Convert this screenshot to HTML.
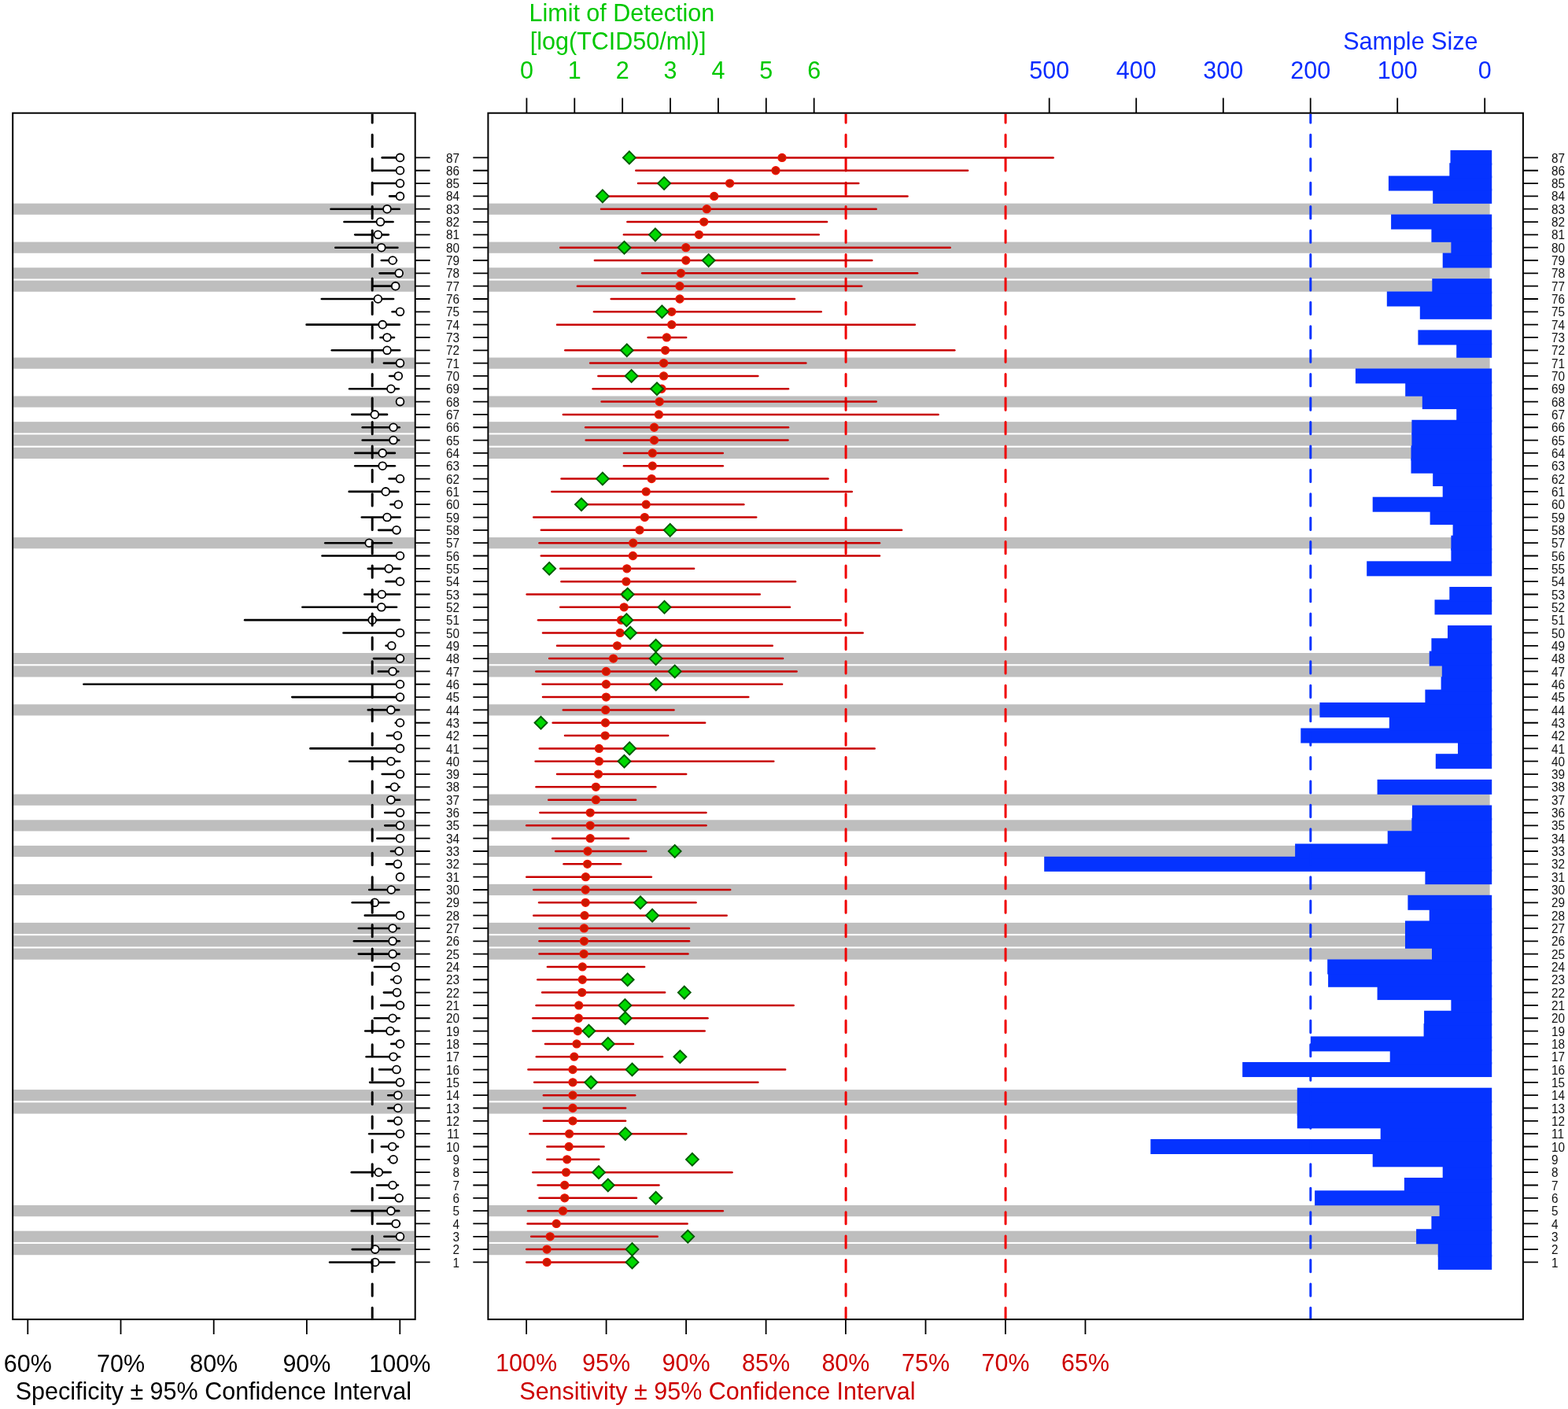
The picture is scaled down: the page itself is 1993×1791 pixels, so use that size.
<!DOCTYPE html>
<html><head><meta charset="utf-8"><title>Forest plot</title>
<style>html,body{margin:0;padding:0;background:#fff;overflow:hidden}svg{display:block;filter:blur(0.45px)}text{font-family:"Liberation Sans",Arial,Helvetica,sans-serif}</style></head><body>
<svg width="1993" height="1791" viewBox="0 0 1993 1791">
<rect x="0" y="0" width="1993" height="1791" fill="#fff"/>
<defs><clipPath id="cl"><rect x="17.2" y="144.7" width="509.5" height="1531.4"/></clipPath><clipPath id="cm"><rect x="621.4" y="144.7" width="1313.5" height="1531.4"/></clipPath></defs>
<g fill="#BEBEBE">
<rect x="17.2" y="258.6" width="509.5" height="14.2"/>
<rect x="621.4" y="258.6" width="1272.2" height="14.2"/>
<rect x="17.2" y="307.58" width="509.5" height="14.2"/>
<rect x="621.4" y="307.58" width="1272.2" height="14.2"/>
<rect x="17.2" y="340.23" width="509.5" height="14.2"/>
<rect x="621.4" y="340.23" width="1272.2" height="14.2"/>
<rect x="17.2" y="356.56" width="509.5" height="14.2"/>
<rect x="621.4" y="356.56" width="1272.2" height="14.2"/>
<rect x="17.2" y="454.52" width="509.5" height="14.2"/>
<rect x="621.4" y="454.52" width="1272.2" height="14.2"/>
<rect x="17.2" y="503.49" width="509.5" height="14.2"/>
<rect x="621.4" y="503.49" width="1272.2" height="14.2"/>
<rect x="17.2" y="536.15" width="509.5" height="14.2"/>
<rect x="621.4" y="536.15" width="1272.2" height="14.2"/>
<rect x="17.2" y="552.47" width="509.5" height="14.2"/>
<rect x="621.4" y="552.47" width="1272.2" height="14.2"/>
<rect x="17.2" y="568.8" width="509.5" height="14.2"/>
<rect x="621.4" y="568.8" width="1272.2" height="14.2"/>
<rect x="17.2" y="683.08" width="509.5" height="14.2"/>
<rect x="621.4" y="683.08" width="1272.2" height="14.2"/>
<rect x="17.2" y="830.01" width="509.5" height="14.2"/>
<rect x="621.4" y="830.01" width="1272.2" height="14.2"/>
<rect x="17.2" y="846.34" width="509.5" height="14.2"/>
<rect x="621.4" y="846.34" width="1272.2" height="14.2"/>
<rect x="17.2" y="895.32" width="509.5" height="14.2"/>
<rect x="621.4" y="895.32" width="1272.2" height="14.2"/>
<rect x="17.2" y="1009.6" width="509.5" height="14.2"/>
<rect x="621.4" y="1009.6" width="1272.2" height="14.2"/>
<rect x="17.2" y="1042.25" width="509.5" height="14.2"/>
<rect x="621.4" y="1042.25" width="1272.2" height="14.2"/>
<rect x="17.2" y="1074.9" width="509.5" height="14.2"/>
<rect x="621.4" y="1074.9" width="1272.2" height="14.2"/>
<rect x="17.2" y="1123.88" width="509.5" height="14.2"/>
<rect x="621.4" y="1123.88" width="1272.2" height="14.2"/>
<rect x="17.2" y="1172.86" width="509.5" height="14.2"/>
<rect x="621.4" y="1172.86" width="1272.2" height="14.2"/>
<rect x="17.2" y="1189.19" width="509.5" height="14.2"/>
<rect x="621.4" y="1189.19" width="1272.2" height="14.2"/>
<rect x="17.2" y="1205.51" width="509.5" height="14.2"/>
<rect x="621.4" y="1205.51" width="1272.2" height="14.2"/>
<rect x="17.2" y="1385.1" width="509.5" height="14.2"/>
<rect x="621.4" y="1385.1" width="1272.2" height="14.2"/>
<rect x="17.2" y="1401.42" width="509.5" height="14.2"/>
<rect x="621.4" y="1401.42" width="1272.2" height="14.2"/>
<rect x="17.2" y="1532.03" width="509.5" height="14.2"/>
<rect x="621.4" y="1532.03" width="1272.2" height="14.2"/>
<rect x="17.2" y="1564.68" width="509.5" height="14.2"/>
<rect x="621.4" y="1564.68" width="1272.2" height="14.2"/>
<rect x="17.2" y="1581.01" width="509.5" height="14.2"/>
<rect x="621.4" y="1581.01" width="1272.2" height="14.2"/>
</g>
<g fill="#0533FF">
<rect x="1827.8" y="1594.94" width="68.4" height="19"/>
<rect x="1827.8" y="1578.61" width="68.4" height="19"/>
<rect x="1800.1" y="1562.28" width="96.1" height="19"/>
<rect x="1819.4" y="1545.96" width="76.8" height="19"/>
<rect x="1829.6" y="1529.63" width="66.6" height="19"/>
<rect x="1671.1" y="1513.31" width="225.1" height="19"/>
<rect x="1784.9" y="1496.98" width="111.3" height="19"/>
<rect x="1833.7" y="1480.65" width="62.5" height="19"/>
<rect x="1744.7" y="1464.33" width="151.5" height="19"/>
<rect x="1462.4" y="1448" width="433.8" height="19"/>
<rect x="1754.7" y="1431.68" width="141.5" height="19"/>
<rect x="1648.8" y="1415.35" width="247.4" height="19"/>
<rect x="1648.8" y="1399.02" width="247.4" height="19"/>
<rect x="1648.8" y="1382.7" width="247.4" height="19"/>
<rect x="1579.2" y="1350.05" width="317" height="19"/>
<rect x="1766.7" y="1333.72" width="129.5" height="19"/>
<rect x="1665.8" y="1317.39" width="230.4" height="19"/>
<rect x="1809.6" y="1301.07" width="86.6" height="19"/>
<rect x="1810.1" y="1284.74" width="86.1" height="19"/>
<rect x="1844.4" y="1268.42" width="51.8" height="19"/>
<rect x="1750.6" y="1252.09" width="145.6" height="19"/>
<rect x="1688.1" y="1235.76" width="208.1" height="19"/>
<rect x="1687.2" y="1219.44" width="209" height="19"/>
<rect x="1820" y="1203.11" width="76.2" height="19"/>
<rect x="1786" y="1186.79" width="110.2" height="19"/>
<rect x="1786" y="1170.46" width="110.2" height="19"/>
<rect x="1816.7" y="1154.13" width="79.5" height="19"/>
<rect x="1789.4" y="1137.81" width="106.8" height="19"/>
<rect x="1811.4" y="1105.16" width="84.8" height="19"/>
<rect x="1327.2" y="1088.83" width="569" height="19"/>
<rect x="1646.1" y="1072.5" width="250.1" height="19"/>
<rect x="1763.7" y="1056.18" width="132.5" height="19"/>
<rect x="1794.4" y="1039.85" width="101.8" height="19"/>
<rect x="1794.9" y="1023.53" width="101.3" height="19"/>
<rect x="1750.6" y="990.87" width="145.6" height="19"/>
<rect x="1824.8" y="958.22" width="71.4" height="19"/>
<rect x="1853" y="941.9" width="43.2" height="19"/>
<rect x="1653.3" y="925.57" width="242.9" height="19"/>
<rect x="1765.8" y="909.24" width="130.4" height="19"/>
<rect x="1677.4" y="892.92" width="218.8" height="19"/>
<rect x="1811.4" y="876.59" width="84.8" height="19"/>
<rect x="1831.6" y="860.27" width="64.6" height="19"/>
<rect x="1832.8" y="843.94" width="63.4" height="19"/>
<rect x="1816.7" y="827.61" width="79.5" height="19"/>
<rect x="1819.4" y="811.29" width="76.8" height="19"/>
<rect x="1840" y="794.96" width="56.2" height="19"/>
<rect x="1823.5" y="762.31" width="72.7" height="19"/>
<rect x="1842.3" y="745.98" width="53.9" height="19"/>
<rect x="1737.2" y="713.33" width="159" height="19"/>
<rect x="1844.4" y="697.01" width="51.8" height="19"/>
<rect x="1844.4" y="680.68" width="51.8" height="19"/>
<rect x="1846.6" y="664.35" width="49.6" height="19"/>
<rect x="1817.6" y="648.03" width="78.6" height="19"/>
<rect x="1744.7" y="631.7" width="151.5" height="19"/>
<rect x="1833.7" y="615.38" width="62.5" height="19"/>
<rect x="1821.2" y="599.05" width="75" height="19"/>
<rect x="1793.5" y="582.72" width="102.7" height="19"/>
<rect x="1793.5" y="566.4" width="102.7" height="19"/>
<rect x="1794.4" y="550.07" width="101.8" height="19"/>
<rect x="1794.4" y="533.75" width="101.8" height="19"/>
<rect x="1851.2" y="517.42" width="45" height="19"/>
<rect x="1807.8" y="501.09" width="88.4" height="19"/>
<rect x="1786.2" y="484.77" width="110" height="19"/>
<rect x="1722.9" y="468.44" width="173.3" height="19"/>
<rect x="1851.2" y="435.79" width="45" height="19"/>
<rect x="1802.4" y="419.46" width="93.8" height="19"/>
<rect x="1804.8" y="386.81" width="91.4" height="19"/>
<rect x="1762.8" y="370.49" width="133.4" height="19"/>
<rect x="1820.3" y="354.16" width="75.9" height="19"/>
<rect x="1833.7" y="321.51" width="62.5" height="19"/>
<rect x="1844.4" y="305.18" width="51.8" height="19"/>
<rect x="1819.4" y="288.86" width="76.8" height="19"/>
<rect x="1768.1" y="272.53" width="128.1" height="19"/>
<rect x="1821.2" y="239.88" width="75" height="19"/>
<rect x="1764.9" y="223.55" width="131.3" height="19"/>
<rect x="1842.3" y="207.23" width="53.9" height="19"/>
<rect x="1843.5" y="190.9" width="52.7" height="19"/>
</g>
<g clip-path="url(#cm)" stroke-width="3" fill="none" stroke-dasharray="15.2 15.23" stroke-linecap="round">
<line x1="1075.1" y1="140.87" x2="1075.1" y2="1677.1" stroke="#F00000"/>
<line x1="1278.1" y1="140.87" x2="1278.1" y2="1677.1" stroke="#F00000"/>
<line x1="1665.8" y1="140.87" x2="1665.8" y2="1677.1" stroke="#0533FF"/>
</g>
<g stroke="#000" stroke-width="2.6" stroke-linecap="round" fill="none">
<line x1="419.1" y1="1604.44" x2="501.4" y2="1604.44"/>
<line x1="447.7" y1="1588.11" x2="508.1" y2="1588.11"/>
<line x1="488.4" y1="1571.78" x2="508.5" y2="1571.78"/>
<line x1="479.4" y1="1555.46" x2="508.1" y2="1555.46"/>
<line x1="446.8" y1="1539.13" x2="507.2" y2="1539.13"/>
<line x1="482.1" y1="1522.81" x2="507.2" y2="1522.81"/>
<line x1="479" y1="1506.48" x2="505.9" y2="1506.48"/>
<line x1="446.8" y1="1490.15" x2="496.5" y2="1490.15"/>
<line x1="493.7" y1="1473.83" x2="500" y2="1473.83"/>
<line x1="484.8" y1="1457.5" x2="505.9" y2="1457.5"/>
<line x1="469.2" y1="1441.18" x2="508.5" y2="1441.18"/>
<line x1="493.3" y1="1424.85" x2="505.8" y2="1424.85"/>
<line x1="493.3" y1="1408.52" x2="505.8" y2="1408.52"/>
<line x1="493.3" y1="1392.2" x2="505.8" y2="1392.2"/>
<line x1="470.1" y1="1375.87" x2="508.5" y2="1375.87"/>
<line x1="482.1" y1="1359.55" x2="504" y2="1359.55"/>
<line x1="465.6" y1="1343.22" x2="508.1" y2="1343.22"/>
<line x1="497.3" y1="1326.89" x2="508.5" y2="1326.89"/>
<line x1="464.2" y1="1310.57" x2="507.2" y2="1310.57"/>
<line x1="475.9" y1="1294.24" x2="507.7" y2="1294.24"/>
<line x1="484.3" y1="1277.92" x2="508.5" y2="1277.92"/>
<line x1="487.9" y1="1261.59" x2="504.5" y2="1261.59"/>
<line x1="497.3" y1="1245.26" x2="505" y2="1245.26"/>
<line x1="475.9" y1="1228.94" x2="502.7" y2="1228.94"/>
<line x1="455.8" y1="1212.61" x2="507.7" y2="1212.61"/>
<line x1="449.9" y1="1196.29" x2="507.7" y2="1196.29"/>
<line x1="455.8" y1="1179.96" x2="507.7" y2="1179.96"/>
<line x1="463.8" y1="1163.63" x2="508.5" y2="1163.63"/>
<line x1="447.7" y1="1147.31" x2="494.3" y2="1147.31"/>
<line x1="469.2" y1="1130.98" x2="507.2" y2="1130.98"/>
<line x1="491" y1="1098.33" x2="505.4" y2="1098.33"/>
<line x1="496.9" y1="1082" x2="507.2" y2="1082"/>
<line x1="479.4" y1="1065.68" x2="508.5" y2="1065.68"/>
<line x1="489.3" y1="1049.35" x2="508.5" y2="1049.35"/>
<line x1="489.3" y1="1033.03" x2="508.5" y2="1033.03"/>
<line x1="493.3" y1="1016.7" x2="508.1" y2="1016.7"/>
<line x1="491" y1="1000.37" x2="507.7" y2="1000.37"/>
<line x1="485.7" y1="984.05" x2="508.5" y2="984.05"/>
<line x1="444.1" y1="967.72" x2="508.1" y2="967.72"/>
<line x1="394.4" y1="951.4" x2="508.5" y2="951.4"/>
<line x1="491.9" y1="935.07" x2="505.4" y2="935.07"/>
<line x1="502.7" y1="918.74" x2="508.5" y2="918.74"/>
<line x1="467.8" y1="902.42" x2="507.2" y2="902.42"/>
<line x1="371.3" y1="886.09" x2="508.5" y2="886.09"/>
<line x1="106.4" y1="869.77" x2="508.5" y2="869.77"/>
<line x1="480.8" y1="853.44" x2="506.3" y2="853.44"/>
<line x1="475" y1="837.11" x2="508.5" y2="837.11"/>
<line x1="490.6" y1="820.79" x2="497.8" y2="820.79"/>
<line x1="436.5" y1="804.46" x2="508.5" y2="804.46"/>
<line x1="311.1" y1="788.14" x2="507.7" y2="788.14"/>
<line x1="384.4" y1="771.81" x2="504.1" y2="771.81"/>
<line x1="463.3" y1="755.48" x2="508.1" y2="755.48"/>
<line x1="490.6" y1="739.16" x2="508.5" y2="739.16"/>
<line x1="467.8" y1="722.83" x2="508.6" y2="722.83"/>
<line x1="409.5" y1="706.51" x2="508.5" y2="706.51"/>
<line x1="413.3" y1="690.18" x2="497.8" y2="690.18"/>
<line x1="481.2" y1="673.85" x2="504" y2="673.85"/>
<line x1="459.8" y1="657.53" x2="508.6" y2="657.53"/>
<line x1="496.4" y1="641.2" x2="506.3" y2="641.2"/>
<line x1="443.7" y1="624.88" x2="506.3" y2="624.88"/>
<line x1="494.6" y1="608.55" x2="508.5" y2="608.55"/>
<line x1="451.3" y1="592.22" x2="501.9" y2="592.22"/>
<line x1="451.3" y1="575.9" x2="501.9" y2="575.9"/>
<line x1="460.7" y1="559.57" x2="507.2" y2="559.57"/>
<line x1="460.7" y1="543.25" x2="507.7" y2="543.25"/>
<line x1="447.3" y1="526.92" x2="492" y2="526.92"/>
<line x1="444.1" y1="494.27" x2="506.8" y2="494.27"/>
<line x1="495.1" y1="477.94" x2="506.3" y2="477.94"/>
<line x1="487.9" y1="461.62" x2="508.5" y2="461.62"/>
<line x1="421.8" y1="445.29" x2="508.1" y2="445.29"/>
<line x1="483.5" y1="428.96" x2="501" y2="428.96"/>
<line x1="389.6" y1="412.64" x2="507.7" y2="412.64"/>
<line x1="498.6" y1="396.31" x2="508.5" y2="396.31"/>
<line x1="408.8" y1="379.99" x2="500.1" y2="379.99"/>
<line x1="475" y1="363.66" x2="502.7" y2="363.66"/>
<line x1="482.6" y1="347.33" x2="507.2" y2="347.33"/>
<line x1="484.8" y1="331.01" x2="504.1" y2="331.01"/>
<line x1="426.3" y1="314.68" x2="505.4" y2="314.68"/>
<line x1="451.3" y1="298.36" x2="493.8" y2="298.36"/>
<line x1="437.4" y1="282.03" x2="499.6" y2="282.03"/>
<line x1="420.5" y1="265.7" x2="507.7" y2="265.7"/>
<line x1="495.1" y1="249.38" x2="508.5" y2="249.38"/>
<line x1="475" y1="233.05" x2="508.5" y2="233.05"/>
<line x1="474.8" y1="216.73" x2="508.5" y2="216.73"/>
<line x1="485.7" y1="200.4" x2="508.5" y2="200.4"/>
</g>
<g stroke="#000" stroke-width="1.8" fill="#fff">
<circle cx="476.8" cy="1604.44" r="4.9"/>
<circle cx="476.8" cy="1588.11" r="4.9"/>
<circle cx="508.5" cy="1571.78" r="4.9"/>
<circle cx="503.2" cy="1555.46" r="4.9"/>
<circle cx="496.9" cy="1539.13" r="4.9"/>
<circle cx="507.2" cy="1522.81" r="4.9"/>
<circle cx="499.1" cy="1506.48" r="4.9"/>
<circle cx="481.3" cy="1490.15" r="4.9"/>
<circle cx="500" cy="1473.83" r="4.9"/>
<circle cx="498.7" cy="1457.5" r="4.9"/>
<circle cx="508.5" cy="1441.18" r="4.9"/>
<circle cx="505.8" cy="1424.85" r="4.9"/>
<circle cx="505.8" cy="1408.52" r="4.9"/>
<circle cx="505.8" cy="1392.2" r="4.9"/>
<circle cx="508.5" cy="1375.87" r="4.9"/>
<circle cx="504" cy="1359.55" r="4.9"/>
<circle cx="500" cy="1343.22" r="4.9"/>
<circle cx="508.5" cy="1326.89" r="4.9"/>
<circle cx="496" cy="1310.57" r="4.9"/>
<circle cx="499.1" cy="1294.24" r="4.9"/>
<circle cx="508.5" cy="1277.92" r="4.9"/>
<circle cx="504.5" cy="1261.59" r="4.9"/>
<circle cx="505" cy="1245.26" r="4.9"/>
<circle cx="502.7" cy="1228.94" r="4.9"/>
<circle cx="499.1" cy="1212.61" r="4.9"/>
<circle cx="499.1" cy="1196.29" r="4.9"/>
<circle cx="499.1" cy="1179.96" r="4.9"/>
<circle cx="508.5" cy="1163.63" r="4.9"/>
<circle cx="476.3" cy="1147.31" r="4.9"/>
<circle cx="497.3" cy="1130.98" r="4.9"/>
<circle cx="508.5" cy="1114.66" r="4.9"/>
<circle cx="505.4" cy="1098.33" r="4.9"/>
<circle cx="507.2" cy="1082" r="4.9"/>
<circle cx="508.5" cy="1065.68" r="4.9"/>
<circle cx="508.5" cy="1049.35" r="4.9"/>
<circle cx="508.5" cy="1033.03" r="4.9"/>
<circle cx="496.9" cy="1016.7" r="4.9"/>
<circle cx="501.4" cy="1000.37" r="4.9"/>
<circle cx="508.5" cy="984.05" r="4.9"/>
<circle cx="496.9" cy="967.72" r="4.9"/>
<circle cx="508.5" cy="951.4" r="4.9"/>
<circle cx="505.4" cy="935.07" r="4.9"/>
<circle cx="508.5" cy="918.74" r="4.9"/>
<circle cx="496.9" cy="902.42" r="4.9"/>
<circle cx="508.5" cy="886.09" r="4.9"/>
<circle cx="508.5" cy="869.77" r="4.9"/>
<circle cx="499.1" cy="853.44" r="4.9"/>
<circle cx="508.5" cy="837.11" r="4.9"/>
<circle cx="497.8" cy="820.79" r="4.9"/>
<circle cx="508.5" cy="804.46" r="4.9"/>
<circle cx="473.2" cy="788.14" r="4.9"/>
<circle cx="484.8" cy="771.81" r="4.9"/>
<circle cx="485.3" cy="755.48" r="4.9"/>
<circle cx="508.5" cy="739.16" r="4.9"/>
<circle cx="494.2" cy="722.83" r="4.9"/>
<circle cx="508.5" cy="706.51" r="4.9"/>
<circle cx="469.2" cy="690.18" r="4.9"/>
<circle cx="504" cy="673.85" r="4.9"/>
<circle cx="492" cy="657.53" r="4.9"/>
<circle cx="506.3" cy="641.2" r="4.9"/>
<circle cx="490.2" cy="624.88" r="4.9"/>
<circle cx="508.5" cy="608.55" r="4.9"/>
<circle cx="486.2" cy="592.22" r="4.9"/>
<circle cx="486.2" cy="575.9" r="4.9"/>
<circle cx="500" cy="559.57" r="4.9"/>
<circle cx="500" cy="543.25" r="4.9"/>
<circle cx="476.3" cy="526.92" r="4.9"/>
<circle cx="508.5" cy="510.59" r="4.9"/>
<circle cx="496.9" cy="494.27" r="4.9"/>
<circle cx="506.3" cy="477.94" r="4.9"/>
<circle cx="508.5" cy="461.62" r="4.9"/>
<circle cx="492" cy="445.29" r="4.9"/>
<circle cx="492" cy="428.96" r="4.9"/>
<circle cx="486.2" cy="412.64" r="4.9"/>
<circle cx="508.5" cy="396.31" r="4.9"/>
<circle cx="480.4" cy="379.99" r="4.9"/>
<circle cx="502.7" cy="363.66" r="4.9"/>
<circle cx="507.2" cy="347.33" r="4.9"/>
<circle cx="499.1" cy="331.01" r="4.9"/>
<circle cx="484.8" cy="314.68" r="4.9"/>
<circle cx="480.4" cy="298.36" r="4.9"/>
<circle cx="483.5" cy="282.03" r="4.9"/>
<circle cx="492" cy="265.7" r="4.9"/>
<circle cx="508.5" cy="249.38" r="4.9"/>
<circle cx="508.5" cy="233.05" r="4.9"/>
<circle cx="508.5" cy="216.73" r="4.9"/>
<circle cx="508.5" cy="200.4" r="4.9"/>
</g>
<g clip-path="url(#cl)"><line x1="473.2" y1="140.87" x2="473.2" y2="1677.1" stroke="#000" stroke-width="3" stroke-dasharray="15.2 15.23" stroke-linecap="round"/></g>
<g stroke="#C80000" stroke-width="2.5" stroke-linecap="round" fill="none">
<line x1="669.2" y1="1604.44" x2="801.8" y2="1604.44"/>
<line x1="669.2" y1="1588.11" x2="801.8" y2="1588.11"/>
<line x1="675.2" y1="1571.78" x2="835.7" y2="1571.78"/>
<line x1="670.5" y1="1555.46" x2="873.6" y2="1555.46"/>
<line x1="671" y1="1539.13" x2="918.8" y2="1539.13"/>
<line x1="685.5" y1="1522.81" x2="809" y2="1522.81"/>
<line x1="683.6" y1="1506.48" x2="837.5" y2="1506.48"/>
<line x1="677.3" y1="1490.15" x2="930.5" y2="1490.15"/>
<line x1="695.4" y1="1473.83" x2="761.3" y2="1473.83"/>
<line x1="695.4" y1="1457.5" x2="767.6" y2="1457.5"/>
<line x1="673.4" y1="1441.18" x2="872.2" y2="1441.18"/>
<line x1="690.9" y1="1424.85" x2="795.1" y2="1424.85"/>
<line x1="690.9" y1="1408.52" x2="795.1" y2="1408.52"/>
<line x1="690.9" y1="1392.2" x2="807.2" y2="1392.2"/>
<line x1="679.1" y1="1375.87" x2="963.4" y2="1375.87"/>
<line x1="671.4" y1="1359.55" x2="998.1" y2="1359.55"/>
<line x1="681.8" y1="1343.22" x2="842" y2="1343.22"/>
<line x1="693" y1="1326.89" x2="805" y2="1326.89"/>
<line x1="677.3" y1="1310.57" x2="895.7" y2="1310.57"/>
<line x1="677.3" y1="1294.24" x2="899.5" y2="1294.24"/>
<line x1="681.5" y1="1277.92" x2="1008.7" y2="1277.92"/>
<line x1="689.1" y1="1261.59" x2="845.1" y2="1261.59"/>
<line x1="683.3" y1="1245.26" x2="795.8" y2="1245.26"/>
<line x1="695.9" y1="1228.94" x2="819.1" y2="1228.94"/>
<line x1="685.5" y1="1212.61" x2="874.5" y2="1212.61"/>
<line x1="685.5" y1="1196.29" x2="876" y2="1196.29"/>
<line x1="685.5" y1="1179.96" x2="876" y2="1179.96"/>
<line x1="678.2" y1="1163.63" x2="923.7" y2="1163.63"/>
<line x1="685.1" y1="1147.31" x2="884.5" y2="1147.31"/>
<line x1="678.2" y1="1130.98" x2="928.2" y2="1130.98"/>
<line x1="669.2" y1="1114.66" x2="827.9" y2="1114.66"/>
<line x1="716.5" y1="1098.33" x2="789.1" y2="1098.33"/>
<line x1="706.2" y1="1082" x2="821.2" y2="1082"/>
<line x1="702.1" y1="1065.68" x2="799" y2="1065.68"/>
<line x1="669.2" y1="1049.35" x2="897.5" y2="1049.35"/>
<line x1="686.4" y1="1033.03" x2="897.5" y2="1033.03"/>
<line x1="697.2" y1="1016.7" x2="808.1" y2="1016.7"/>
<line x1="681.5" y1="1000.37" x2="833.3" y2="1000.37"/>
<line x1="708" y1="984.05" x2="872.2" y2="984.05"/>
<line x1="680.6" y1="967.72" x2="983.3" y2="967.72"/>
<line x1="685.8" y1="951.4" x2="1111.7" y2="951.4"/>
<line x1="718" y1="935.07" x2="849.2" y2="935.07"/>
<line x1="702.6" y1="918.74" x2="896.2" y2="918.74"/>
<line x1="715.8" y1="902.42" x2="856.5" y2="902.42"/>
<line x1="690" y1="886.09" x2="951.3" y2="886.09"/>
<line x1="689.6" y1="869.77" x2="994.1" y2="869.77"/>
<line x1="681.3" y1="853.44" x2="1012.6" y2="853.44"/>
<line x1="698.1" y1="837.11" x2="995.1" y2="837.11"/>
<line x1="708" y1="820.79" x2="981.8" y2="820.79"/>
<line x1="690" y1="804.46" x2="1096.7" y2="804.46"/>
<line x1="684" y1="788.14" x2="1068.6" y2="788.14"/>
<line x1="712.2" y1="771.81" x2="1004" y2="771.81"/>
<line x1="669.6" y1="755.48" x2="965.8" y2="755.48"/>
<line x1="713.5" y1="739.16" x2="1011" y2="739.16"/>
<line x1="712.2" y1="722.83" x2="882.1" y2="722.83"/>
<line x1="687.8" y1="706.51" x2="1118" y2="706.51"/>
<line x1="685.5" y1="690.18" x2="1118" y2="690.18"/>
<line x1="687.8" y1="673.85" x2="1146.1" y2="673.85"/>
<line x1="678.2" y1="657.53" x2="961.2" y2="657.53"/>
<line x1="746.2" y1="641.2" x2="945.3" y2="641.2"/>
<line x1="701.4" y1="624.88" x2="1082.8" y2="624.88"/>
<line x1="713.5" y1="608.55" x2="1052.5" y2="608.55"/>
<line x1="792.9" y1="592.22" x2="918.8" y2="592.22"/>
<line x1="792.9" y1="575.9" x2="918.8" y2="575.9"/>
<line x1="744.7" y1="559.57" x2="1001.5" y2="559.57"/>
<line x1="744.2" y1="543.25" x2="1002" y2="543.25"/>
<line x1="715.8" y1="526.92" x2="1192.6" y2="526.92"/>
<line x1="764.6" y1="510.59" x2="1113.7" y2="510.59"/>
<line x1="753.6" y1="494.27" x2="1002" y2="494.27"/>
<line x1="760.4" y1="477.94" x2="963.4" y2="477.94"/>
<line x1="750.1" y1="461.62" x2="1024.4" y2="461.62"/>
<line x1="718.3" y1="445.29" x2="1213.3" y2="445.29"/>
<line x1="823.6" y1="428.96" x2="872.2" y2="428.96"/>
<line x1="708" y1="412.64" x2="1162.9" y2="412.64"/>
<line x1="755" y1="396.31" x2="1043.7" y2="396.31"/>
<line x1="776.7" y1="379.99" x2="1010" y2="379.99"/>
<line x1="733.9" y1="363.66" x2="1095.3" y2="363.66"/>
<line x1="816.1" y1="347.33" x2="1166.1" y2="347.33"/>
<line x1="755.9" y1="331.01" x2="1108.3" y2="331.01"/>
<line x1="712.2" y1="314.68" x2="1207.7" y2="314.68"/>
<line x1="792.9" y1="298.36" x2="1040.7" y2="298.36"/>
<line x1="797.4" y1="282.03" x2="1051.1" y2="282.03"/>
<line x1="764" y1="265.7" x2="1113.7" y2="265.7"/>
<line x1="771.2" y1="249.38" x2="1153.5" y2="249.38"/>
<line x1="811" y1="233.05" x2="1091.3" y2="233.05"/>
<line x1="808.3" y1="216.73" x2="1230.1" y2="216.73"/>
<line x1="806.2" y1="200.4" x2="1338.7" y2="200.4"/>
</g>
<g fill="#CC1800" stroke="#F21400" stroke-width="1.3">
<circle cx="695.1" cy="1604.44" r="5.0"/>
<circle cx="695.1" cy="1588.11" r="5.0"/>
<circle cx="699.2" cy="1571.78" r="5.0"/>
<circle cx="707.2" cy="1555.46" r="5.0"/>
<circle cx="715.5" cy="1539.13" r="5.0"/>
<circle cx="717.7" cy="1522.81" r="5.0"/>
<circle cx="717.7" cy="1506.48" r="5.0"/>
<circle cx="719.5" cy="1490.15" r="5.0"/>
<circle cx="720.7" cy="1473.83" r="5.0"/>
<circle cx="723.1" cy="1457.5" r="5.0"/>
<circle cx="723.6" cy="1441.18" r="5.0"/>
<circle cx="728" cy="1424.85" r="5.0"/>
<circle cx="728" cy="1408.52" r="5.0"/>
<circle cx="728" cy="1392.2" r="5.0"/>
<circle cx="728" cy="1375.87" r="5.0"/>
<circle cx="728" cy="1359.55" r="5.0"/>
<circle cx="729.8" cy="1343.22" r="5.0"/>
<circle cx="733" cy="1326.89" r="5.0"/>
<circle cx="734.3" cy="1310.57" r="5.0"/>
<circle cx="735.4" cy="1294.24" r="5.0"/>
<circle cx="735.7" cy="1277.92" r="5.0"/>
<circle cx="739.7" cy="1261.59" r="5.0"/>
<circle cx="740.3" cy="1245.26" r="5.0"/>
<circle cx="740.3" cy="1228.94" r="5.0"/>
<circle cx="742.1" cy="1212.61" r="5.0"/>
<circle cx="742.4" cy="1196.29" r="5.0"/>
<circle cx="742.4" cy="1179.96" r="5.0"/>
<circle cx="743" cy="1163.63" r="5.0"/>
<circle cx="744.2" cy="1147.31" r="5.0"/>
<circle cx="744.2" cy="1130.98" r="5.0"/>
<circle cx="744.4" cy="1114.66" r="5.0"/>
<circle cx="746.6" cy="1098.33" r="5.0"/>
<circle cx="747" cy="1082" r="5.0"/>
<circle cx="750.2" cy="1065.68" r="5.0"/>
<circle cx="750.2" cy="1049.35" r="5.0"/>
<circle cx="750.2" cy="1033.03" r="5.0"/>
<circle cx="757.4" cy="1016.7" r="5.0"/>
<circle cx="757.4" cy="1000.37" r="5.0"/>
<circle cx="760.5" cy="984.05" r="5.0"/>
<circle cx="761.4" cy="967.72" r="5.0"/>
<circle cx="761.4" cy="951.4" r="5.0"/>
<circle cx="769.2" cy="935.07" r="5.0"/>
<circle cx="769.5" cy="918.74" r="5.0"/>
<circle cx="769.7" cy="902.42" r="5.0"/>
<circle cx="770.4" cy="886.09" r="5.0"/>
<circle cx="770.4" cy="869.77" r="5.0"/>
<circle cx="770.4" cy="853.44" r="5.0"/>
<circle cx="779.6" cy="837.11" r="5.0"/>
<circle cx="784.5" cy="820.79" r="5.0"/>
<circle cx="788.1" cy="804.46" r="5.0"/>
<circle cx="789.5" cy="788.14" r="5.0"/>
<circle cx="793.2" cy="771.81" r="5.0"/>
<circle cx="795.3" cy="755.48" r="5.0"/>
<circle cx="795.9" cy="739.16" r="5.0"/>
<circle cx="796.8" cy="722.83" r="5.0"/>
<circle cx="804.4" cy="706.51" r="5.0"/>
<circle cx="804.7" cy="690.18" r="5.0"/>
<circle cx="813" cy="673.85" r="5.0"/>
<circle cx="819.4" cy="657.53" r="5.0"/>
<circle cx="821.2" cy="641.2" r="5.0"/>
<circle cx="821.2" cy="624.88" r="5.0"/>
<circle cx="828.2" cy="608.55" r="5.0"/>
<circle cx="829.3" cy="592.22" r="5.0"/>
<circle cx="829.3" cy="575.9" r="5.0"/>
<circle cx="831.5" cy="559.57" r="5.0"/>
<circle cx="831.5" cy="543.25" r="5.0"/>
<circle cx="837.4" cy="526.92" r="5.0"/>
<circle cx="838.2" cy="510.59" r="5.0"/>
<circle cx="841" cy="494.27" r="5.0"/>
<circle cx="843.6" cy="477.94" r="5.0"/>
<circle cx="843.6" cy="461.62" r="5.0"/>
<circle cx="845.6" cy="445.29" r="5.0"/>
<circle cx="847.4" cy="428.96" r="5.0"/>
<circle cx="853.7" cy="412.64" r="5.0"/>
<circle cx="853.7" cy="396.31" r="5.0"/>
<circle cx="864" cy="379.99" r="5.0"/>
<circle cx="864" cy="363.66" r="5.0"/>
<circle cx="865.4" cy="347.33" r="5.0"/>
<circle cx="871.8" cy="331.01" r="5.0"/>
<circle cx="871.8" cy="314.68" r="5.0"/>
<circle cx="888.4" cy="298.36" r="5.0"/>
<circle cx="894.7" cy="282.03" r="5.0"/>
<circle cx="898.3" cy="265.7" r="5.0"/>
<circle cx="907.7" cy="249.38" r="5.0"/>
<circle cx="927.6" cy="233.05" r="5.0"/>
<circle cx="986" cy="216.73" r="5.0"/>
<circle cx="994" cy="200.4" r="5.0"/>
</g>
<g fill="#00D800" stroke="#005A00" stroke-width="1.9" stroke-linejoin="miter">
<path d="M795.55 1604.44L803.5 1596.49L811.45 1604.44L803.5 1612.39Z"/>
<path d="M795.55 1588.11L803.5 1580.16L811.45 1588.11L803.5 1596.06Z"/>
<path d="M866.35 1571.78L874.3 1563.83L882.25 1571.78L874.3 1579.73Z"/>
<path d="M825.65 1522.81L833.6 1514.86L841.55 1522.81L833.6 1530.76Z"/>
<path d="M764.85 1506.48L772.8 1498.53L780.75 1506.48L772.8 1514.43Z"/>
<path d="M753.05 1490.15L761 1482.2L768.95 1490.15L761 1498.1Z"/>
<path d="M871.95 1473.83L879.9 1465.88L887.85 1473.83L879.9 1481.78Z"/>
<path d="M786.85 1441.18L794.8 1433.23L802.75 1441.18L794.8 1449.13Z"/>
<path d="M743.15 1375.87L751.1 1367.92L759.05 1375.87L751.1 1383.82Z"/>
<path d="M795.55 1359.55L803.5 1351.6L811.45 1359.55L803.5 1367.5Z"/>
<path d="M856.45 1343.22L864.4 1335.27L872.35 1343.22L864.4 1351.17Z"/>
<path d="M764.85 1326.89L772.8 1318.94L780.75 1326.89L772.8 1334.84Z"/>
<path d="M740.45 1310.57L748.4 1302.62L756.35 1310.57L748.4 1318.52Z"/>
<path d="M786.85 1294.24L794.8 1286.29L802.75 1294.24L794.8 1302.19Z"/>
<path d="M786.45 1277.92L794.4 1269.97L802.35 1277.92L794.4 1285.87Z"/>
<path d="M861.85 1261.59L869.8 1253.64L877.75 1261.59L869.8 1269.54Z"/>
<path d="M789.75 1245.26L797.7 1237.31L805.65 1245.26L797.7 1253.21Z"/>
<path d="M821.15 1163.63L829.1 1155.68L837.05 1163.63L829.1 1171.58Z"/>
<path d="M806.05 1147.31L814 1139.36L821.95 1147.31L814 1155.26Z"/>
<path d="M849.75 1082L857.7 1074.05L865.65 1082L857.7 1089.95Z"/>
<path d="M785.55 967.72L793.5 959.77L801.45 967.72L793.5 975.67Z"/>
<path d="M792.25 951.4L800.2 943.45L808.15 951.4L800.2 959.35Z"/>
<path d="M679.55 918.74L687.5 910.79L695.45 918.74L687.5 926.69Z"/>
<path d="M825.85 869.77L833.8 861.82L841.75 869.77L833.8 877.72Z"/>
<path d="M849.75 853.44L857.7 845.49L865.65 853.44L857.7 861.39Z"/>
<path d="M825.65 837.11L833.6 829.16L841.55 837.11L833.6 845.06Z"/>
<path d="M825.65 820.79L833.6 812.84L841.55 820.79L833.6 828.74Z"/>
<path d="M793.15 804.46L801.1 796.51L809.05 804.46L801.1 812.41Z"/>
<path d="M788.45 788.14L796.4 780.19L804.35 788.14L796.4 796.09Z"/>
<path d="M836.55 771.81L844.5 763.86L852.45 771.81L844.5 779.76Z"/>
<path d="M789.75 755.48L797.7 747.53L805.65 755.48L797.7 763.43Z"/>
<path d="M690.25 722.83L698.2 714.88L706.15 722.83L698.2 730.78Z"/>
<path d="M843.75 673.85L851.7 665.9L859.65 673.85L851.7 681.8Z"/>
<path d="M731.05 641.2L739 633.25L746.95 641.2L739 649.15Z"/>
<path d="M757.95 608.55L765.9 600.6L773.85 608.55L765.9 616.5Z"/>
<path d="M827.05 494.27L835 486.32L842.95 494.27L835 502.22Z"/>
<path d="M794.65 477.94L802.6 469.99L810.55 477.94L802.6 485.89Z"/>
<path d="M788.85 445.29L796.8 437.34L804.75 445.29L796.8 453.24Z"/>
<path d="M833.45 396.31L841.4 388.36L849.35 396.31L841.4 404.26Z"/>
<path d="M892.75 331.01L900.7 323.06L908.65 331.01L900.7 338.96Z"/>
<path d="M785.55 314.68L793.5 306.73L801.45 314.68L793.5 322.63Z"/>
<path d="M824.95 298.36L832.9 290.41L840.85 298.36L832.9 306.31Z"/>
<path d="M757.95 249.38L765.9 241.43L773.85 249.38L765.9 257.33Z"/>
<path d="M836.15 233.05L844.1 225.1L852.05 233.05L844.1 241Z"/>
<path d="M791.95 200.4L799.9 192.45L807.85 200.4L799.9 208.35Z"/>
</g>
<g fill="none" stroke="#000" stroke-width="2">
<rect x="16.2" y="143.7" width="511.5" height="1533.4"/>
<rect x="620.4" y="143.7" width="1315.5" height="1533.4"/>
</g>
<path d="M527.7 1604.44H546.6M601.3 1604.44H620.4M1935.9 1604.44H1955M527.7 1588.11H546.6M601.3 1588.11H620.4M1935.9 1588.11H1955M527.7 1571.78H546.6M601.3 1571.78H620.4M1935.9 1571.78H1955M527.7 1555.46H546.6M601.3 1555.46H620.4M1935.9 1555.46H1955M527.7 1539.13H546.6M601.3 1539.13H620.4M1935.9 1539.13H1955M527.7 1522.81H546.6M601.3 1522.81H620.4M1935.9 1522.81H1955M527.7 1506.48H546.6M601.3 1506.48H620.4M1935.9 1506.48H1955M527.7 1490.15H546.6M601.3 1490.15H620.4M1935.9 1490.15H1955M527.7 1473.83H546.6M601.3 1473.83H620.4M1935.9 1473.83H1955M527.7 1457.5H546.6M601.3 1457.5H620.4M1935.9 1457.5H1955M527.7 1441.18H546.6M601.3 1441.18H620.4M1935.9 1441.18H1955M527.7 1424.85H546.6M601.3 1424.85H620.4M1935.9 1424.85H1955M527.7 1408.52H546.6M601.3 1408.52H620.4M1935.9 1408.52H1955M527.7 1392.2H546.6M601.3 1392.2H620.4M1935.9 1392.2H1955M527.7 1375.87H546.6M601.3 1375.87H620.4M1935.9 1375.87H1955M527.7 1359.55H546.6M601.3 1359.55H620.4M1935.9 1359.55H1955M527.7 1343.22H546.6M601.3 1343.22H620.4M1935.9 1343.22H1955M527.7 1326.89H546.6M601.3 1326.89H620.4M1935.9 1326.89H1955M527.7 1310.57H546.6M601.3 1310.57H620.4M1935.9 1310.57H1955M527.7 1294.24H546.6M601.3 1294.24H620.4M1935.9 1294.24H1955M527.7 1277.92H546.6M601.3 1277.92H620.4M1935.9 1277.92H1955M527.7 1261.59H546.6M601.3 1261.59H620.4M1935.9 1261.59H1955M527.7 1245.26H546.6M601.3 1245.26H620.4M1935.9 1245.26H1955M527.7 1228.94H546.6M601.3 1228.94H620.4M1935.9 1228.94H1955M527.7 1212.61H546.6M601.3 1212.61H620.4M1935.9 1212.61H1955M527.7 1196.29H546.6M601.3 1196.29H620.4M1935.9 1196.29H1955M527.7 1179.96H546.6M601.3 1179.96H620.4M1935.9 1179.96H1955M527.7 1163.63H546.6M601.3 1163.63H620.4M1935.9 1163.63H1955M527.7 1147.31H546.6M601.3 1147.31H620.4M1935.9 1147.31H1955M527.7 1130.98H546.6M601.3 1130.98H620.4M1935.9 1130.98H1955M527.7 1114.66H546.6M601.3 1114.66H620.4M1935.9 1114.66H1955M527.7 1098.33H546.6M601.3 1098.33H620.4M1935.9 1098.33H1955M527.7 1082H546.6M601.3 1082H620.4M1935.9 1082H1955M527.7 1065.68H546.6M601.3 1065.68H620.4M1935.9 1065.68H1955M527.7 1049.35H546.6M601.3 1049.35H620.4M1935.9 1049.35H1955M527.7 1033.03H546.6M601.3 1033.03H620.4M1935.9 1033.03H1955M527.7 1016.7H546.6M601.3 1016.7H620.4M1935.9 1016.7H1955M527.7 1000.37H546.6M601.3 1000.37H620.4M1935.9 1000.37H1955M527.7 984.05H546.6M601.3 984.05H620.4M1935.9 984.05H1955M527.7 967.72H546.6M601.3 967.72H620.4M1935.9 967.72H1955M527.7 951.4H546.6M601.3 951.4H620.4M1935.9 951.4H1955M527.7 935.07H546.6M601.3 935.07H620.4M1935.9 935.07H1955M527.7 918.74H546.6M601.3 918.74H620.4M1935.9 918.74H1955M527.7 902.42H546.6M601.3 902.42H620.4M1935.9 902.42H1955M527.7 886.09H546.6M601.3 886.09H620.4M1935.9 886.09H1955M527.7 869.77H546.6M601.3 869.77H620.4M1935.9 869.77H1955M527.7 853.44H546.6M601.3 853.44H620.4M1935.9 853.44H1955M527.7 837.11H546.6M601.3 837.11H620.4M1935.9 837.11H1955M527.7 820.79H546.6M601.3 820.79H620.4M1935.9 820.79H1955M527.7 804.46H546.6M601.3 804.46H620.4M1935.9 804.46H1955M527.7 788.14H546.6M601.3 788.14H620.4M1935.9 788.14H1955M527.7 771.81H546.6M601.3 771.81H620.4M1935.9 771.81H1955M527.7 755.48H546.6M601.3 755.48H620.4M1935.9 755.48H1955M527.7 739.16H546.6M601.3 739.16H620.4M1935.9 739.16H1955M527.7 722.83H546.6M601.3 722.83H620.4M1935.9 722.83H1955M527.7 706.51H546.6M601.3 706.51H620.4M1935.9 706.51H1955M527.7 690.18H546.6M601.3 690.18H620.4M1935.9 690.18H1955M527.7 673.85H546.6M601.3 673.85H620.4M1935.9 673.85H1955M527.7 657.53H546.6M601.3 657.53H620.4M1935.9 657.53H1955M527.7 641.2H546.6M601.3 641.2H620.4M1935.9 641.2H1955M527.7 624.88H546.6M601.3 624.88H620.4M1935.9 624.88H1955M527.7 608.55H546.6M601.3 608.55H620.4M1935.9 608.55H1955M527.7 592.22H546.6M601.3 592.22H620.4M1935.9 592.22H1955M527.7 575.9H546.6M601.3 575.9H620.4M1935.9 575.9H1955M527.7 559.57H546.6M601.3 559.57H620.4M1935.9 559.57H1955M527.7 543.25H546.6M601.3 543.25H620.4M1935.9 543.25H1955M527.7 526.92H546.6M601.3 526.92H620.4M1935.9 526.92H1955M527.7 510.59H546.6M601.3 510.59H620.4M1935.9 510.59H1955M527.7 494.27H546.6M601.3 494.27H620.4M1935.9 494.27H1955M527.7 477.94H546.6M601.3 477.94H620.4M1935.9 477.94H1955M527.7 461.62H546.6M601.3 461.62H620.4M1935.9 461.62H1955M527.7 445.29H546.6M601.3 445.29H620.4M1935.9 445.29H1955M527.7 428.96H546.6M601.3 428.96H620.4M1935.9 428.96H1955M527.7 412.64H546.6M601.3 412.64H620.4M1935.9 412.64H1955M527.7 396.31H546.6M601.3 396.31H620.4M1935.9 396.31H1955M527.7 379.99H546.6M601.3 379.99H620.4M1935.9 379.99H1955M527.7 363.66H546.6M601.3 363.66H620.4M1935.9 363.66H1955M527.7 347.33H546.6M601.3 347.33H620.4M1935.9 347.33H1955M527.7 331.01H546.6M601.3 331.01H620.4M1935.9 331.01H1955M527.7 314.68H546.6M601.3 314.68H620.4M1935.9 314.68H1955M527.7 298.36H546.6M601.3 298.36H620.4M1935.9 298.36H1955M527.7 282.03H546.6M601.3 282.03H620.4M1935.9 282.03H1955M527.7 265.7H546.6M601.3 265.7H620.4M1935.9 265.7H1955M527.7 249.38H546.6M601.3 249.38H620.4M1935.9 249.38H1955M527.7 233.05H546.6M601.3 233.05H620.4M1935.9 233.05H1955M527.7 216.73H546.6M601.3 216.73H620.4M1935.9 216.73H1955M527.7 200.4H546.6M601.3 200.4H620.4M1935.9 200.4H1955M35.3 1677.1V1696.1M153.5 1677.1V1696.1M271.7 1677.1V1696.1M389.9 1677.1V1696.1M508.3 1677.1V1696.1M669.1 1677.1V1696.1M770.6 1677.1V1696.1M872.1 1677.1V1696.1M973.6 1677.1V1696.1M1074.9 1677.1V1696.1M1176.5 1677.1V1696.1M1278 1677.1V1696.1M1379.5 1677.1V1696.1M669.4 124.5V143.7M730.28 124.5V143.7M791.16 124.5V143.7M852.04 124.5V143.7M912.92 124.5V143.7M973.8 124.5V143.7M1034.68 124.5V143.7M1333.7 124.5V143.7M1444.2 124.5V143.7M1554.8 124.5V143.7M1665.7 124.5V143.7M1776.2 124.5V143.7M1887.2 124.5V143.7" stroke="#000" stroke-width="1.8" fill="none"/>
<g font-size="15.3" fill="#111">
<text transform="translate(584 1610.54) scale(1 1.07)" text-anchor="end">1</text>
<text transform="translate(1972.1 1610.54) scale(1 1.07)">1</text>
<text transform="translate(584 1594.21) scale(1 1.07)" text-anchor="end">2</text>
<text transform="translate(1972.1 1594.21) scale(1 1.07)">2</text>
<text transform="translate(584 1577.88) scale(1 1.07)" text-anchor="end">3</text>
<text transform="translate(1972.1 1577.88) scale(1 1.07)">3</text>
<text transform="translate(584 1561.56) scale(1 1.07)" text-anchor="end">4</text>
<text transform="translate(1972.1 1561.56) scale(1 1.07)">4</text>
<text transform="translate(584 1545.23) scale(1 1.07)" text-anchor="end">5</text>
<text transform="translate(1972.1 1545.23) scale(1 1.07)">5</text>
<text transform="translate(584 1528.91) scale(1 1.07)" text-anchor="end">6</text>
<text transform="translate(1972.1 1528.91) scale(1 1.07)">6</text>
<text transform="translate(584 1512.58) scale(1 1.07)" text-anchor="end">7</text>
<text transform="translate(1972.1 1512.58) scale(1 1.07)">7</text>
<text transform="translate(584 1496.25) scale(1 1.07)" text-anchor="end">8</text>
<text transform="translate(1972.1 1496.25) scale(1 1.07)">8</text>
<text transform="translate(584 1479.93) scale(1 1.07)" text-anchor="end">9</text>
<text transform="translate(1972.1 1479.93) scale(1 1.07)">9</text>
<text transform="translate(584 1463.6) scale(1 1.07)" text-anchor="end">10</text>
<text transform="translate(1972.1 1463.6) scale(1 1.07)">10</text>
<text transform="translate(584 1447.28) scale(1 1.07)" text-anchor="end">11</text>
<text transform="translate(1972.1 1447.28) scale(1 1.07)">11</text>
<text transform="translate(584 1430.95) scale(1 1.07)" text-anchor="end">12</text>
<text transform="translate(1972.1 1430.95) scale(1 1.07)">12</text>
<text transform="translate(584 1414.62) scale(1 1.07)" text-anchor="end">13</text>
<text transform="translate(1972.1 1414.62) scale(1 1.07)">13</text>
<text transform="translate(584 1398.3) scale(1 1.07)" text-anchor="end">14</text>
<text transform="translate(1972.1 1398.3) scale(1 1.07)">14</text>
<text transform="translate(584 1381.97) scale(1 1.07)" text-anchor="end">15</text>
<text transform="translate(1972.1 1381.97) scale(1 1.07)">15</text>
<text transform="translate(584 1365.65) scale(1 1.07)" text-anchor="end">16</text>
<text transform="translate(1972.1 1365.65) scale(1 1.07)">16</text>
<text transform="translate(584 1349.32) scale(1 1.07)" text-anchor="end">17</text>
<text transform="translate(1972.1 1349.32) scale(1 1.07)">17</text>
<text transform="translate(584 1332.99) scale(1 1.07)" text-anchor="end">18</text>
<text transform="translate(1972.1 1332.99) scale(1 1.07)">18</text>
<text transform="translate(584 1316.67) scale(1 1.07)" text-anchor="end">19</text>
<text transform="translate(1972.1 1316.67) scale(1 1.07)">19</text>
<text transform="translate(584 1300.34) scale(1 1.07)" text-anchor="end">20</text>
<text transform="translate(1972.1 1300.34) scale(1 1.07)">20</text>
<text transform="translate(584 1284.02) scale(1 1.07)" text-anchor="end">21</text>
<text transform="translate(1972.1 1284.02) scale(1 1.07)">21</text>
<text transform="translate(584 1267.69) scale(1 1.07)" text-anchor="end">22</text>
<text transform="translate(1972.1 1267.69) scale(1 1.07)">22</text>
<text transform="translate(584 1251.36) scale(1 1.07)" text-anchor="end">23</text>
<text transform="translate(1972.1 1251.36) scale(1 1.07)">23</text>
<text transform="translate(584 1235.04) scale(1 1.07)" text-anchor="end">24</text>
<text transform="translate(1972.1 1235.04) scale(1 1.07)">24</text>
<text transform="translate(584 1218.71) scale(1 1.07)" text-anchor="end">25</text>
<text transform="translate(1972.1 1218.71) scale(1 1.07)">25</text>
<text transform="translate(584 1202.39) scale(1 1.07)" text-anchor="end">26</text>
<text transform="translate(1972.1 1202.39) scale(1 1.07)">26</text>
<text transform="translate(584 1186.06) scale(1 1.07)" text-anchor="end">27</text>
<text transform="translate(1972.1 1186.06) scale(1 1.07)">27</text>
<text transform="translate(584 1169.73) scale(1 1.07)" text-anchor="end">28</text>
<text transform="translate(1972.1 1169.73) scale(1 1.07)">28</text>
<text transform="translate(584 1153.41) scale(1 1.07)" text-anchor="end">29</text>
<text transform="translate(1972.1 1153.41) scale(1 1.07)">29</text>
<text transform="translate(584 1137.08) scale(1 1.07)" text-anchor="end">30</text>
<text transform="translate(1972.1 1137.08) scale(1 1.07)">30</text>
<text transform="translate(584 1120.76) scale(1 1.07)" text-anchor="end">31</text>
<text transform="translate(1972.1 1120.76) scale(1 1.07)">31</text>
<text transform="translate(584 1104.43) scale(1 1.07)" text-anchor="end">32</text>
<text transform="translate(1972.1 1104.43) scale(1 1.07)">32</text>
<text transform="translate(584 1088.1) scale(1 1.07)" text-anchor="end">33</text>
<text transform="translate(1972.1 1088.1) scale(1 1.07)">33</text>
<text transform="translate(584 1071.78) scale(1 1.07)" text-anchor="end">34</text>
<text transform="translate(1972.1 1071.78) scale(1 1.07)">34</text>
<text transform="translate(584 1055.45) scale(1 1.07)" text-anchor="end">35</text>
<text transform="translate(1972.1 1055.45) scale(1 1.07)">35</text>
<text transform="translate(584 1039.13) scale(1 1.07)" text-anchor="end">36</text>
<text transform="translate(1972.1 1039.13) scale(1 1.07)">36</text>
<text transform="translate(584 1022.8) scale(1 1.07)" text-anchor="end">37</text>
<text transform="translate(1972.1 1022.8) scale(1 1.07)">37</text>
<text transform="translate(584 1006.47) scale(1 1.07)" text-anchor="end">38</text>
<text transform="translate(1972.1 1006.47) scale(1 1.07)">38</text>
<text transform="translate(584 990.15) scale(1 1.07)" text-anchor="end">39</text>
<text transform="translate(1972.1 990.15) scale(1 1.07)">39</text>
<text transform="translate(584 973.82) scale(1 1.07)" text-anchor="end">40</text>
<text transform="translate(1972.1 973.82) scale(1 1.07)">40</text>
<text transform="translate(584 957.5) scale(1 1.07)" text-anchor="end">41</text>
<text transform="translate(1972.1 957.5) scale(1 1.07)">41</text>
<text transform="translate(584 941.17) scale(1 1.07)" text-anchor="end">42</text>
<text transform="translate(1972.1 941.17) scale(1 1.07)">42</text>
<text transform="translate(584 924.84) scale(1 1.07)" text-anchor="end">43</text>
<text transform="translate(1972.1 924.84) scale(1 1.07)">43</text>
<text transform="translate(584 908.52) scale(1 1.07)" text-anchor="end">44</text>
<text transform="translate(1972.1 908.52) scale(1 1.07)">44</text>
<text transform="translate(584 892.19) scale(1 1.07)" text-anchor="end">45</text>
<text transform="translate(1972.1 892.19) scale(1 1.07)">45</text>
<text transform="translate(584 875.87) scale(1 1.07)" text-anchor="end">46</text>
<text transform="translate(1972.1 875.87) scale(1 1.07)">46</text>
<text transform="translate(584 859.54) scale(1 1.07)" text-anchor="end">47</text>
<text transform="translate(1972.1 859.54) scale(1 1.07)">47</text>
<text transform="translate(584 843.21) scale(1 1.07)" text-anchor="end">48</text>
<text transform="translate(1972.1 843.21) scale(1 1.07)">48</text>
<text transform="translate(584 826.89) scale(1 1.07)" text-anchor="end">49</text>
<text transform="translate(1972.1 826.89) scale(1 1.07)">49</text>
<text transform="translate(584 810.56) scale(1 1.07)" text-anchor="end">50</text>
<text transform="translate(1972.1 810.56) scale(1 1.07)">50</text>
<text transform="translate(584 794.24) scale(1 1.07)" text-anchor="end">51</text>
<text transform="translate(1972.1 794.24) scale(1 1.07)">51</text>
<text transform="translate(584 777.91) scale(1 1.07)" text-anchor="end">52</text>
<text transform="translate(1972.1 777.91) scale(1 1.07)">52</text>
<text transform="translate(584 761.58) scale(1 1.07)" text-anchor="end">53</text>
<text transform="translate(1972.1 761.58) scale(1 1.07)">53</text>
<text transform="translate(584 745.26) scale(1 1.07)" text-anchor="end">54</text>
<text transform="translate(1972.1 745.26) scale(1 1.07)">54</text>
<text transform="translate(584 728.93) scale(1 1.07)" text-anchor="end">55</text>
<text transform="translate(1972.1 728.93) scale(1 1.07)">55</text>
<text transform="translate(584 712.61) scale(1 1.07)" text-anchor="end">56</text>
<text transform="translate(1972.1 712.61) scale(1 1.07)">56</text>
<text transform="translate(584 696.28) scale(1 1.07)" text-anchor="end">57</text>
<text transform="translate(1972.1 696.28) scale(1 1.07)">57</text>
<text transform="translate(584 679.95) scale(1 1.07)" text-anchor="end">58</text>
<text transform="translate(1972.1 679.95) scale(1 1.07)">58</text>
<text transform="translate(584 663.63) scale(1 1.07)" text-anchor="end">59</text>
<text transform="translate(1972.1 663.63) scale(1 1.07)">59</text>
<text transform="translate(584 647.3) scale(1 1.07)" text-anchor="end">60</text>
<text transform="translate(1972.1 647.3) scale(1 1.07)">60</text>
<text transform="translate(584 630.98) scale(1 1.07)" text-anchor="end">61</text>
<text transform="translate(1972.1 630.98) scale(1 1.07)">61</text>
<text transform="translate(584 614.65) scale(1 1.07)" text-anchor="end">62</text>
<text transform="translate(1972.1 614.65) scale(1 1.07)">62</text>
<text transform="translate(584 598.32) scale(1 1.07)" text-anchor="end">63</text>
<text transform="translate(1972.1 598.32) scale(1 1.07)">63</text>
<text transform="translate(584 582) scale(1 1.07)" text-anchor="end">64</text>
<text transform="translate(1972.1 582) scale(1 1.07)">64</text>
<text transform="translate(584 565.67) scale(1 1.07)" text-anchor="end">65</text>
<text transform="translate(1972.1 565.67) scale(1 1.07)">65</text>
<text transform="translate(584 549.35) scale(1 1.07)" text-anchor="end">66</text>
<text transform="translate(1972.1 549.35) scale(1 1.07)">66</text>
<text transform="translate(584 533.02) scale(1 1.07)" text-anchor="end">67</text>
<text transform="translate(1972.1 533.02) scale(1 1.07)">67</text>
<text transform="translate(584 516.69) scale(1 1.07)" text-anchor="end">68</text>
<text transform="translate(1972.1 516.69) scale(1 1.07)">68</text>
<text transform="translate(584 500.37) scale(1 1.07)" text-anchor="end">69</text>
<text transform="translate(1972.1 500.37) scale(1 1.07)">69</text>
<text transform="translate(584 484.04) scale(1 1.07)" text-anchor="end">70</text>
<text transform="translate(1972.1 484.04) scale(1 1.07)">70</text>
<text transform="translate(584 467.72) scale(1 1.07)" text-anchor="end">71</text>
<text transform="translate(1972.1 467.72) scale(1 1.07)">71</text>
<text transform="translate(584 451.39) scale(1 1.07)" text-anchor="end">72</text>
<text transform="translate(1972.1 451.39) scale(1 1.07)">72</text>
<text transform="translate(584 435.06) scale(1 1.07)" text-anchor="end">73</text>
<text transform="translate(1972.1 435.06) scale(1 1.07)">73</text>
<text transform="translate(584 418.74) scale(1 1.07)" text-anchor="end">74</text>
<text transform="translate(1972.1 418.74) scale(1 1.07)">74</text>
<text transform="translate(584 402.41) scale(1 1.07)" text-anchor="end">75</text>
<text transform="translate(1972.1 402.41) scale(1 1.07)">75</text>
<text transform="translate(584 386.09) scale(1 1.07)" text-anchor="end">76</text>
<text transform="translate(1972.1 386.09) scale(1 1.07)">76</text>
<text transform="translate(584 369.76) scale(1 1.07)" text-anchor="end">77</text>
<text transform="translate(1972.1 369.76) scale(1 1.07)">77</text>
<text transform="translate(584 353.43) scale(1 1.07)" text-anchor="end">78</text>
<text transform="translate(1972.1 353.43) scale(1 1.07)">78</text>
<text transform="translate(584 337.11) scale(1 1.07)" text-anchor="end">79</text>
<text transform="translate(1972.1 337.11) scale(1 1.07)">79</text>
<text transform="translate(584 320.78) scale(1 1.07)" text-anchor="end">80</text>
<text transform="translate(1972.1 320.78) scale(1 1.07)">80</text>
<text transform="translate(584 304.46) scale(1 1.07)" text-anchor="end">81</text>
<text transform="translate(1972.1 304.46) scale(1 1.07)">81</text>
<text transform="translate(584 288.13) scale(1 1.07)" text-anchor="end">82</text>
<text transform="translate(1972.1 288.13) scale(1 1.07)">82</text>
<text transform="translate(584 271.8) scale(1 1.07)" text-anchor="end">83</text>
<text transform="translate(1972.1 271.8) scale(1 1.07)">83</text>
<text transform="translate(584 255.48) scale(1 1.07)" text-anchor="end">84</text>
<text transform="translate(1972.1 255.48) scale(1 1.07)">84</text>
<text transform="translate(584 239.15) scale(1 1.07)" text-anchor="end">85</text>
<text transform="translate(1972.1 239.15) scale(1 1.07)">85</text>
<text transform="translate(584 222.83) scale(1 1.07)" text-anchor="end">86</text>
<text transform="translate(1972.1 222.83) scale(1 1.07)">86</text>
<text transform="translate(584 206.5) scale(1 1.07)" text-anchor="end">87</text>
<text transform="translate(1972.1 206.5) scale(1 1.07)">87</text>
</g>
<g font-size="30.5">
<text x="35.3" y="1744" text-anchor="middle" fill="#000">60%</text>
<text x="153.5" y="1744" text-anchor="middle" fill="#000">70%</text>
<text x="271.7" y="1744" text-anchor="middle" fill="#000">80%</text>
<text x="389.9" y="1744" text-anchor="middle" fill="#000">90%</text>
<text x="508.3" y="1744" text-anchor="middle" fill="#000">100%</text>
<text x="669.1" y="1743.4" text-anchor="middle" fill="#CC0000">100%</text>
<text x="770.6" y="1743.4" text-anchor="middle" fill="#CC0000">95%</text>
<text x="872.1" y="1743.4" text-anchor="middle" fill="#CC0000">90%</text>
<text x="973.6" y="1743.4" text-anchor="middle" fill="#CC0000">85%</text>
<text x="1074.9" y="1743.4" text-anchor="middle" fill="#CC0000">80%</text>
<text x="1176.5" y="1743.4" text-anchor="middle" fill="#CC0000">75%</text>
<text x="1278" y="1743.4" text-anchor="middle" fill="#CC0000">70%</text>
<text x="1379.5" y="1743.4" text-anchor="middle" fill="#CC0000">65%</text>
<text x="271.3" y="1779.2" text-anchor="middle" fill="#000">Specificity ± 95% Confidence Interval</text>
<text x="660.3" y="1779.2" fill="#CC0000">Sensitivity ± 95% Confidence Interval</text>
<text x="669.4" y="100.2" text-anchor="middle" fill="#00C800">0</text>
<text x="730.28" y="100.2" text-anchor="middle" fill="#00C800">1</text>
<text x="791.16" y="100.2" text-anchor="middle" fill="#00C800">2</text>
<text x="852.04" y="100.2" text-anchor="middle" fill="#00C800">3</text>
<text x="912.92" y="100.2" text-anchor="middle" fill="#00C800">4</text>
<text x="973.8" y="100.2" text-anchor="middle" fill="#00C800">5</text>
<text x="1034.68" y="100.2" text-anchor="middle" fill="#00C800">6</text>
<text x="672.5" y="26.7" fill="#00C800">Limit of Detection</text>
<text x="673.8" y="63.2" fill="#00C800">[log(TCID50/ml)]</text>
<text x="1333.7" y="99.8" text-anchor="middle" fill="#0A2CFF">500</text>
<text x="1444.2" y="99.8" text-anchor="middle" fill="#0A2CFF">400</text>
<text x="1554.8" y="99.8" text-anchor="middle" fill="#0A2CFF">300</text>
<text x="1665.7" y="99.8" text-anchor="middle" fill="#0A2CFF">200</text>
<text x="1776.2" y="99.8" text-anchor="middle" fill="#0A2CFF">100</text>
<text x="1887.2" y="99.8" text-anchor="middle" fill="#0A2CFF">0</text>
<text x="1707.2" y="62.9" fill="#0A2CFF">Sample Size</text>
</g>
</svg></body></html>
